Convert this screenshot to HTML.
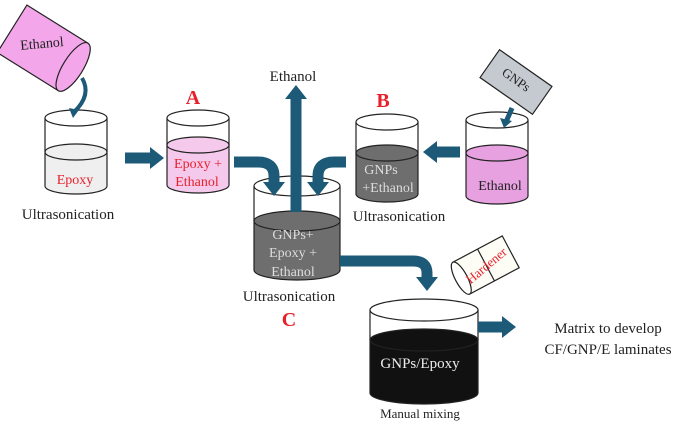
<!DOCTYPE html>
<html><head><meta charset="utf-8"><style>
html,body{margin:0;padding:0;background:#fff;}
svg{display:block;}
text{font-family:"Liberation Serif",serif;}
</style></head><body>
<svg width="685" height="424" viewBox="0 0 685 424" xmlns="http://www.w3.org/2000/svg">
<defs>
<marker id="h" markerUnits="userSpaceOnUse" markerWidth="14" markerHeight="22" refX="0" refY="11" orient="auto"><path d="M0,0 L14,11 L0,22 Z" fill="#1d5a78"/></marker>
</defs>
<g stroke="#222" stroke-width="1.2">
<!-- Ethanol bottle -->
<g transform="translate(46,50) rotate(32)">
<rect x="-40" y="-28" width="72" height="56" fill="#f3a6ea"/>
<ellipse cx="32" cy="0" rx="10" ry="28" fill="#f3a6ea"/>
</g>
<!-- Beaker 1 -->
<path d="M45,152 V186 A31,8 0 0 0 107,186 V152 Z" fill="#efefef"/>
<ellipse cx="76" cy="152" rx="31" ry="8" fill="#efefef"/>
<path d="M45,118 V152 M107,118 V152" fill="none"/>
<ellipse cx="76" cy="118" rx="31" ry="8" fill="#fff"/>
<!-- Beaker A -->
<path d="M167,145 V185 A31,8 0 0 0 229,185 V145 Z" fill="#f4c9ec"/>
<ellipse cx="198" cy="145" rx="31" ry="8" fill="#f4c9ec"/>
<path d="M167,118 V145 M229,118 V145" fill="none"/>
<ellipse cx="198" cy="118" rx="31" ry="8" fill="#fff"/>
<!-- Central beaker -->
<path d="M254,221 V270 A43,10 0 0 0 340,270 V221 Z" fill="#6e6e6e"/>
<ellipse cx="297" cy="221" rx="43" ry="10" fill="#6e6e6e"/>
<path d="M254,186 V221 M340,186 V221" fill="none"/>
<ellipse cx="297" cy="186" rx="43" ry="10" fill="#fff"/>
<!-- Beaker B -->
<path d="M356,153 V194 A31,8 0 0 0 418,194 V153 Z" fill="#6e6e6e"/>
<ellipse cx="387" cy="153" rx="31" ry="8" fill="#6e6e6e"/>
<path d="M356,122 V153 M418,122 V153" fill="none"/>
<ellipse cx="387" cy="122" rx="31" ry="8" fill="#fff"/>
<!-- Ethanol beaker -->
<path d="M466,153 V196 A31,8 0 0 0 528,196 V153 Z" fill="#e7a0e0"/>
<ellipse cx="497" cy="153" rx="31" ry="8" fill="#e7a0e0"/>
<path d="M466,120 V153 M528,120 V153" fill="none"/>
<ellipse cx="497" cy="120" rx="31" ry="8" fill="#fff"/>
<!-- GNPs box -->
<g transform="translate(516,82) rotate(35)">
<rect x="-32" y="-17" width="64" height="34" fill="#c5c9d0"/>
</g>
<!-- Final beaker -->
<path d="M370,340 V393 A54,11 0 0 0 478,393 V340 Z" fill="#111"/>
<ellipse cx="424" cy="340" rx="54" ry="11" fill="#111"/>
<path d="M370,310 V340 M478,310 V340" fill="none"/>
<ellipse cx="424" cy="310" rx="54" ry="11" fill="#fff"/>
<!-- Hardener -->
<g transform="translate(486,265) rotate(-28)">
<rect x="-28" y="-18" width="56" height="36" fill="#fdfdf5"/>
<line x1="0" y1="-18" x2="0" y2="18"/>
<ellipse cx="-28" cy="0" rx="6" ry="18" fill="#fff"/>
</g>
</g>
<!-- Arrows -->
<g fill="none" stroke="#1d5a78" stroke-width="11">
<path d="M125,158 H150" marker-end="url(#h)"/>
<path d="M296,212 V99" marker-end="url(#h)"/>
<path d="M234,162 H258 Q274,162 274,176 V182" marker-end="url(#h)"/>
<path d="M346,162 H334 Q318,162 318,176 V182" marker-end="url(#h)"/>
<path d="M460,152 H437" marker-end="url(#h)"/>
<path d="M340,261 H413 Q427,261 427,273 V277" marker-end="url(#h)"/>
<path d="M478,327 H502" marker-end="url(#h)"/>
</g>
<path d="M82,78 Q92,95 74,112" fill="none" stroke="#1d5a78" stroke-width="4"/>
<path d="M69,108 L73,118 L79,110 Z" fill="#1d5a78"/>
<path d="M512,108 L506,122" stroke="#1d5a78" stroke-width="5"/>
<path d="M500,118 L504,128 L512,121 Z" fill="#1d5a78"/>
<!-- Text -->
<g font-size="14" fill="#222" text-anchor="middle">
<text x="42" y="48" transform="rotate(-5 42 44)">Ethanol</text>
<text x="75" y="184" fill="#e8202a">Epoxy</text>
<text x="68" y="219" font-size="15">Ultrasonication</text>
<text x="193" y="104" fill="#e8202a" font-size="20" font-weight="bold">A</text>
<text x="198" y="168" fill="#e8202a">Epoxy +</text>
<text x="197" y="186" fill="#e8202a">Ethanol</text>
<text x="293" y="81" font-size="15">Ethanol</text>
<text x="293" y="239" fill="#ddd">GNPs+</text>
<text x="293" y="257" fill="#ddd">Epoxy +</text>
<text x="293" y="276" fill="#ddd">Ethanol</text>
<text x="289" y="301" font-size="15">Ultrasonication</text>
<text x="289" y="326" fill="#e8202a" font-size="20" font-weight="bold">C</text>
<text x="383" y="107" fill="#e8202a" font-size="20" font-weight="bold">B</text>
<text x="381" y="174" fill="#ddd">GNPs</text>
<text x="388" y="192" fill="#ddd">+Ethanol</text>
<text x="399" y="221" font-size="15">Ultrasonication</text>
<text x="500" y="190">Ethanol</text>
<text x="516" y="84" transform="rotate(35 516 80)" font-size="13">GNPs</text>
<text x="420" y="368" fill="#eee" font-size="15">GNPs/Epoxy</text>
<text x="420" y="418" font-size="13">Manual mixing</text>
<text x="608" y="333" font-size="15">Matrix  to develop</text>
<text x="608" y="354" font-size="15">CF/GNP/E laminates</text>
<text x="486" y="270" transform="rotate(-40 486 265)" fill="#e8202a" font-size="13">Hardener</text>
</g>
</svg>
</body></html>
